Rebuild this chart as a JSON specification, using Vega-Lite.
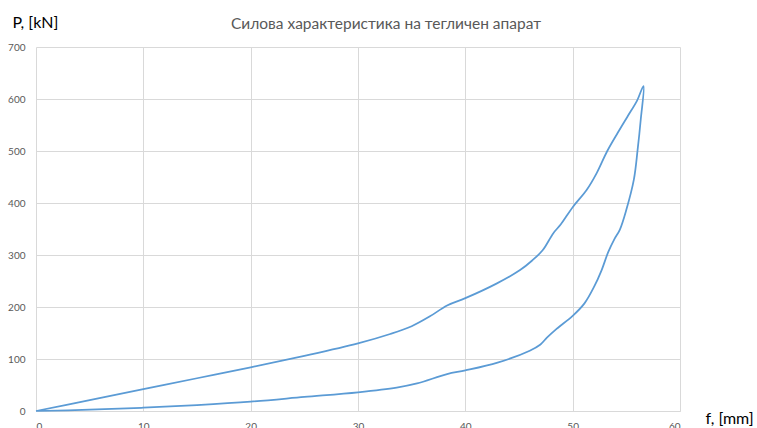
{
  "$schema": "https://vega.github.io/schema/vega-lite/v6.json",
  "width": 644,
  "height": 364,
  "autosize": {"type": "none"},
  "padding": {"left": 36, "top": 47, "right": 77, "bottom": 17},
  "background": "white",
  "config": {
    "view": {"stroke": null},
    "font": "Lato"
  },
  "title": {
    "text": "Силова характеристика на тегличен апарат",
    "anchor": "middle",
    "frame": "group",
    "dx": 28,
    "dy": 50,
    "offset": 20,
    "baseline": "alphabetic",
    "fontSize": 15.5,
    "fontWeight": "normal",
    "color": "#595959",
    "font": "Lato"
  },
  "data": {
    "values": [
      {"i": 1, "f": 0, "P": 0},
      {"i": 2, "f": 5, "P": 21},
      {"i": 3, "f": 10, "P": 42},
      {"i": 4, "f": 15, "P": 63},
      {"i": 5, "f": 20, "P": 84},
      {"i": 6, "f": 25, "P": 106},
      {"i": 7, "f": 30, "P": 130},
      {"i": 8, "f": 33, "P": 148},
      {"i": 9, "f": 35, "P": 163},
      {"i": 10, "f": 36.7, "P": 182},
      {"i": 11, "f": 38.3, "P": 203},
      {"i": 12, "f": 40, "P": 217},
      {"i": 13, "f": 42.9, "P": 245},
      {"i": 14, "f": 45.1, "P": 271},
      {"i": 15, "f": 46.2, "P": 289},
      {"i": 16, "f": 47.2, "P": 309},
      {"i": 17, "f": 48.2, "P": 342},
      {"i": 18, "f": 48.9, "P": 359},
      {"i": 19, "f": 50, "P": 392},
      {"i": 20, "f": 51.3, "P": 425},
      {"i": 21, "f": 52.25, "P": 458},
      {"i": 22, "f": 53.2, "P": 499},
      {"i": 23, "f": 54.2, "P": 535},
      {"i": 24, "f": 55.1, "P": 566},
      {"i": 25, "f": 56, "P": 597},
      {"i": 26, "f": 56.6, "P": 625},
      {"i": 27, "f": 56.35, "P": 562},
      {"i": 28, "f": 56.05, "P": 502},
      {"i": 29, "f": 55.7, "P": 445},
      {"i": 30, "f": 55.0, "P": 387},
      {"i": 31, "f": 54.4, "P": 349},
      {"i": 32, "f": 53.9, "P": 331},
      {"i": 33, "f": 53.3, "P": 305},
      {"i": 34, "f": 52.7, "P": 271},
      {"i": 35, "f": 52.0, "P": 239},
      {"i": 36, "f": 51.1, "P": 207},
      {"i": 37, "f": 50, "P": 183},
      {"i": 38, "f": 48.5, "P": 158},
      {"i": 39, "f": 47.6, "P": 141},
      {"i": 40, "f": 47.0, "P": 128},
      {"i": 41, "f": 46, "P": 116},
      {"i": 42, "f": 43, "P": 93},
      {"i": 43, "f": 40, "P": 78},
      {"i": 44, "f": 38.3, "P": 71},
      {"i": 45, "f": 35.5, "P": 53},
      {"i": 46, "f": 33.6, "P": 45},
      {"i": 47, "f": 30, "P": 36},
      {"i": 48, "f": 25, "P": 27},
      {"i": 49, "f": 20, "P": 18},
      {"i": 50, "f": 15, "P": 11.5},
      {"i": 51, "f": 10, "P": 6.4},
      {"i": 52, "f": 5, "P": 2.5},
      {"i": 53, "f": 0, "P": 0}
    ]
  },
  "mark": {
    "type": "line",
    "interpolate": "catmull-rom",
    "color": "#5B9BD5",
    "strokeWidth": 1.75
  },
  "encoding": {
    "x": {
      "field": "f",
      "type": "quantitative",
      "scale": {"domain": [0, 60], "nice": false, "zero": true},
      "axis": {
        "values": [0, 10, 20, 30, 40, 50, 60],
        "title": "f, [mm]",
        "titleAngle": 0,
        "titleX": 669,
        "titleY": 12,
        "titleAlign": "left",
        "titleBaseline": "alphabetic",
        "titleFontSize": 16,
        "titleFontWeight": "normal",
        "titleColor": "#000000",
        "titleFont": "Lato",
        "labelFontSize": 10,
        "labelColor": "#595959",
        "labelPadding": 10,
        "ticks": false,
        "domainColor": "#d9d9d9",
        "domainWidth": 1,
        "grid": true,
        "gridColor": "#d9d9d9",
        "gridWidth": 1
      }
    },
    "y": {
      "field": "P",
      "type": "quantitative",
      "scale": {"domain": [0, 700], "nice": false},
      "axis": {
        "values": [0, 100, 200, 300, 400, 500, 600, 700],
        "title": "P, [kN]",
        "titleAngle": 0,
        "titleX": -24,
        "titleY": -20,
        "titleAlign": "left",
        "titleBaseline": "alphabetic",
        "titleFontSize": 16,
        "titleFontWeight": "normal",
        "titleColor": "#000000",
        "titleFont": "Lato",
        "labelFontSize": 10,
        "labelColor": "#595959",
        "labelPadding": 11,
        "ticks": false,
        "domain": false,
        "grid": true,
        "gridColor": "#d9d9d9",
        "gridWidth": 1
      }
    },
    "order": {"field": "i", "type": "quantitative"}
  }
}
